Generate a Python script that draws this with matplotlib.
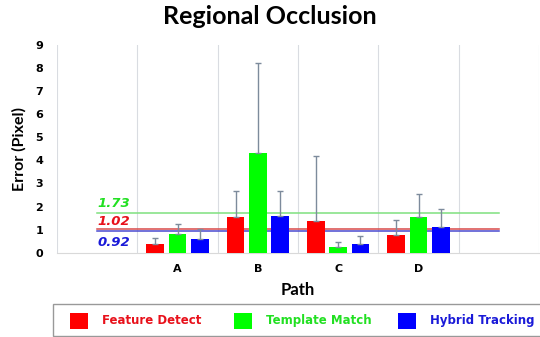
import matplotlib
matplotlib.use("Agg")
import matplotlib.pyplot as plt
import matplotlib.patches as mpatches
import numpy as np

plt.rcParams['font.family'] = ['DejaVu Sans']

categories = ["", "A", "B", "C", "D", ""]
series_names = ["Feature Detect", "Template Match", "Hybrid Tracking"]
colors = ["#ff0000", "#00ff00", "#0000ff"]
line_colors = ["#d94a4a", "#7fe07f", "#4a4ad0"]
text_colors = ["#e8101a", "#22e022", "#1a1ad8"]

feature = [None, 0.36, 1.56, 1.39, 0.75, None]
template = [None, 0.82, 4.31, 0.23, 1.55, None]
hybrid = [None, 0.61, 1.59, 0.39, 1.10, None]
feature_err_top = [None, 0.65, 2.66, 4.18, 1.42, None]
template_err_top = [None, 1.23, 8.24, 0.45, 2.56, None]
hybrid_err_top = [None, 1.01, 2.69, 0.74, 1.89, None]

mean_values = [1.02, 1.73, 0.92]
mean_labels = ["1.02", "1.73", "0.92"]

W, H = 540, 337
fig = plt.figure(figsize=(W / 100, H / 100), dpi=100)
ax = fig.add_axes([57 / W, 1 - 252.7 / H, (539 - 57) / W, (252.7 - 45) / H])

x = np.arange(len(categories))
width = 0.224
offsets = [-0.278, 0.0, 0.278]
all_vals = [feature, template, hybrid]
all_err = [feature_err_top, template_err_top, hybrid_err_top]

for k in range(3):
    idx = [i for i, v in enumerate(all_vals[k]) if v is not None]
    vals = np.array([all_vals[k][i] for i in idx])
    tops = np.array([all_err[k][i] for i in idx])
    xs = x[idx] + offsets[k]
    ax.bar(xs, vals, width, color=colors[k], zorder=3)
    ax.errorbar(xs, vals, yerr=[np.zeros_like(vals), tops - vals], fmt='none',
                ecolor="#7d8b9c", elinewidth=1.0, capsize=2.5, capthick=1.0, zorder=4)

# horizontal mean lines (line series across categories 0..5)
for k in [1, 0, 2]:
    ax.plot([x[0], x[-1]], [mean_values[k], mean_values[k]], color=line_colors[k], lw=1.1, zorder=2)

ax.text(0.0, mean_values[1] + 0.12, mean_labels[1], color=text_colors[1], fontsize=9.5,
        fontweight='bold', fontstyle='italic', ha='left', va='bottom')
ax.text(0.0, mean_values[0] + 0.06, mean_labels[0], color=text_colors[0], fontsize=9.5,
        fontweight='bold', fontstyle='italic', ha='left', va='bottom')
ax.text(0.0, 0.43, mean_labels[2], color=text_colors[2], fontsize=9.5,
        fontweight='bold', fontstyle='italic', ha='left', va='center')

for b in np.arange(-0.5, 6.0, 1.0):
    ax.axvline(b, color="#d9dce1", lw=0.8, zorder=1)

ax.set_xlim(-0.5, 5.5)
ax.set_ylim(0, 9)
ax.set_yticks(range(0, 10))
ax.set_xticks(x)
ax.set_xticklabels(categories)
for s in ["top", "right", "left"]:
    ax.spines[s].set_visible(False)
ax.spines["bottom"].set_color("#d9d9d9")
ax.tick_params(axis='y', length=0, labelsize=8, pad=10)
ax.tick_params(axis='x', length=0, labelsize=8, pad=8)
for lab in ax.get_xticklabels() + ax.get_yticklabels():
    lab.set_fontweight('bold')

ax.set_xlabel("Path", fontsize=12, fontweight='bold', labelpad=6, family=['Lato', 'DejaVu Sans'])
ax.set_ylabel("Error (Pixel)", fontsize=11.5, fontweight='bold', labelpad=6,
              family=['Lato', 'DejaVu Sans'])
fig.text(0.5, 1 - 17 / H, "Regional Occlusion", fontsize=18, fontweight='bold',
         ha='center', va='center', family=['Lato', 'DejaVu Sans'])

# legend drawn manually at the bottom
box = mpatches.Rectangle((53 / W, 1 - 336 / H), (545 - 53) / W, 32 / H,
                         transform=fig.transFigure, facecolor='white',
                         edgecolor='#999999', lw=1.0, clip_on=False)
fig.add_artist(box)
square_x = [70, 233.5, 398]
text_x = [102, 265.5, 429.5]
for k in range(3):
    fig.add_artist(mpatches.Rectangle((square_x[k] / W, 1 - 328.5 / H), 18 / W, 16 / H,
                                      transform=fig.transFigure, facecolor=colors[k],
                                      edgecolor='none'))
    fig.text(text_x[k] / W, 1 - 320.5 / H, series_names[k], color=text_colors[k],
             fontsize=8.5, fontweight='bold', ha='left', va='center')

fig.savefig("out.png", dpi=100)
